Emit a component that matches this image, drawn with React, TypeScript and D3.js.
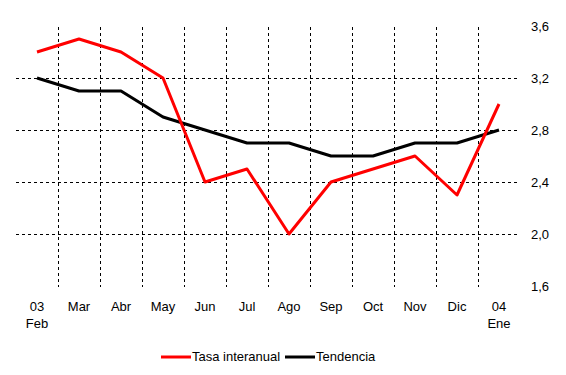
import React from 'react'
import * as d3 from 'd3'

const WIDTH = 566
const HEIGHT = 375
const LEFT = 16
const RIGHT = 520
const TOP = 26
const BOTTOM = 286

const months = ['Feb', 'Mar', 'Abr', 'May', 'Jun', 'Jul', 'Ago', 'Sep', 'Oct', 'Nov', 'Dic', 'Ene']
const monthLabels = [['03', 'Feb'], ['Mar'], ['Abr'], ['May'], ['Jun'], ['Jul'], ['Ago'], ['Sep'], ['Oct'], ['Nov'], ['Dic'], ['04', 'Ene']]
const tasaInteranual = [3.4, 3.5, 3.4, 3.2, 2.4, 2.5, 2.0, 2.4, 2.5, 2.6, 2.3, 3.0]
const tendencia = [3.2, 3.1, 3.1, 2.9, 2.8, 2.7, 2.7, 2.6, 2.6, 2.7, 2.7, 2.8]
const yTicks = [1.6, 2.0, 2.4, 2.8, 3.2, 3.6]

const FONT = 'Arial, "Liberation Sans", sans-serif'

export default function App() {
  const x = d3.scaleBand<string>().domain(months).range([LEFT, RIGHT])
  const y = d3.scaleLinear().domain([1.6, 3.6]).range([BOTTOM, TOP])
  const cx = (m: string) => (x(m) as number) + x.bandwidth() / 2

  const line = d3.line<number>()
    .x((_, i) => cx(months[i]))
    .y(d => y(d))

  const fmt = (v: number) => d3.format('.1f')(v).replace('.', ',')

  return (
    <svg width={WIDTH} height={HEIGHT} style={{ position: 'absolute', left: 0, top: 0, background: '#fff' }}>
      {/* horizontal grid */}
      {yTicks.filter(t => t > 1.6 && t < 3.6).map(t => (
        <line key={'h' + t} x1={LEFT} x2={RIGHT} y1={Math.round(y(t)) + 0.5} y2={Math.round(y(t)) + 0.5}
          stroke="#000" strokeWidth={1} strokeDasharray="3,3" />
      ))}
      {/* vertical grid */}
      {months.slice(1).map(m => (
        <line key={'v' + m} x1={Math.round(x(m) as number) + 0.5} x2={Math.round(x(m) as number) + 0.5}
          y1={TOP + 1} y2={BOTTOM + 1} stroke="#000" strokeWidth={1} strokeDasharray="3,3" />
      ))}
      {/* y labels */}
      {yTicks.map(t => (
        <text key={'y' + t} x={531} y={y(t) + 5} fontFamily={FONT} fontSize={13} fill="#000">{fmt(t)}</text>
      ))}
      {/* x labels */}
      {months.map((m, i) => monthLabels[i].map((l, j) => (
        <text key={m + j} x={cx(m)} y={311 + j * 17} textAnchor="middle" fontFamily={FONT} fontSize={13} fill="#000">{l}</text>
      )))}
      <path d={line(tendencia) as string} fill="none" stroke="#000" strokeWidth={3} strokeLinejoin="round" />
      <path d={line(tasaInteranual) as string} fill="none" stroke="#ff0000" strokeWidth={3} strokeLinejoin="round" />
      {/* legend */}
      <line x1={161} x2={191} y1={357} y2={357} stroke="#ff0000" strokeWidth={3} />
      <text x={192} y={361} fontFamily={FONT} fontSize={13} fill="#000">Tasa interanual</text>
      <line x1={285} x2={315} y1={357} y2={357} stroke="#000" strokeWidth={3} />
      <text x={316} y={361} fontFamily={FONT} fontSize={13} fill="#000">Tendencia</text>
    </svg>
  )
}
